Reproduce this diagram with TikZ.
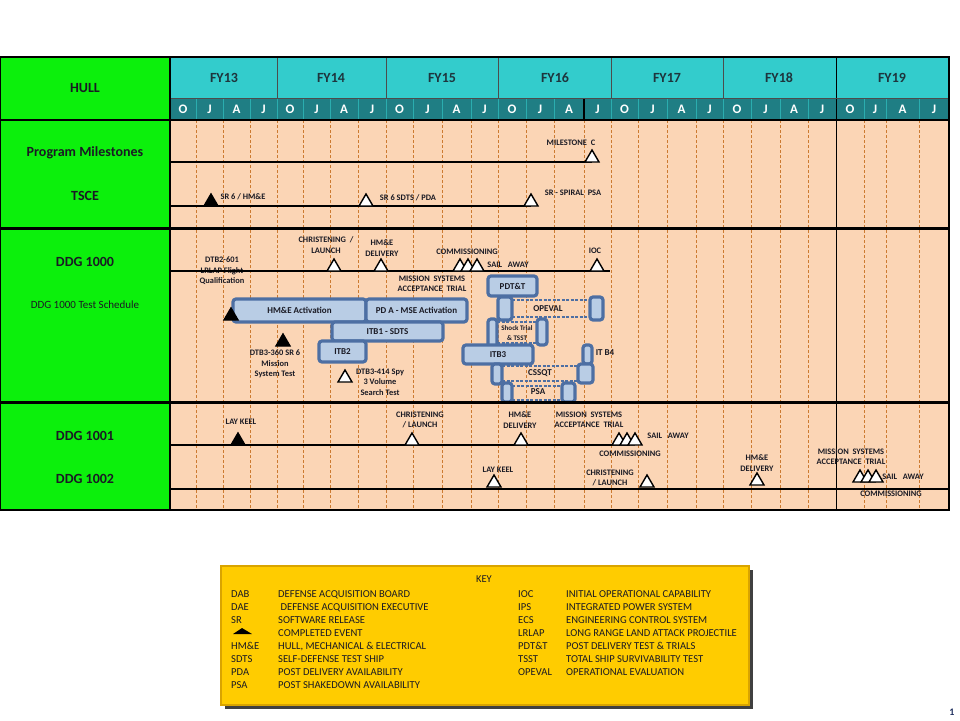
\documentclass[tikz,border=0pt]{standalone}
\usepackage{fontspec}
\setmainfont{Carlito}
\usetikzlibrary{positioning}
\definecolor{Ink}{HTML}{1A1A24}
\definecolor{HullGreen}{HTML}{0CF00C}
\definecolor{FYCyan}{HTML}{33CCCC}
\definecolor{MonthTeal}{HTML}{1F7E84}
\definecolor{Peach}{HTML}{FBD5B5}
\definecolor{DashOrange}{HTML}{CC7A30}
\definecolor{BarEdge}{HTML}{4D6FA3}
\definecolor{BarFill}{HTML}{B9CDE5}
\definecolor{KeyYellow}{HTML}{FFCC00}
\definecolor{KeyEdge}{HTML}{D9A400}
\definecolor{PageBlue}{HTML}{1F2F5F}
\tikzset{
  hulllbl/.style={font=\fontsize{14}{16}\selectfont\bfseries,text=Ink,inner sep=0pt},
  fylbl/.style={font=\fontsize{14}{16}\selectfont\bfseries,text=Ink!85!FYCyan,inner sep=0pt},
  monthlbl/.style={font=\fontsize{13}{15}\selectfont\bfseries,text=white,inner sep=0pt},
  lbl/.style={font=\fontsize{8.4}{10.5}\selectfont\bfseries,text=Ink,inner sep=0pt,align=center},
  barlbl/.style={font=\fontsize{9}{10}\selectfont\bfseries,text=Ink,inner sep=0pt,align=center},
  smallbar/.style={font=\fontsize{7}{10}\selectfont\bfseries,text=Ink,inner sep=0pt,align=center},
  keylbl/.style={font=\fontsize{10.6}{12}\selectfont,text=Ink,inner sep=0pt,anchor=base west},
  bar/.style={draw=BarEdge,fill=BarFill,line width=3.2pt,rounded corners=3pt},
  link/.style={draw=BarEdge,line width=1.6pt,dash pattern=on 3pt off 1.5pt},
  rowline/.style={black,line width=2pt},
  qline/.style={DashOrange,line width=0.6pt,dash pattern=on 3pt off 2pt},
  event/.style={draw=black,line width=1.4pt,line join=miter,fill=white},
  doneevent/.style={event,fill=black}
}
% milestone triangle: style, x, base y
\newcommand{\evt}[3]{\draw[#1] ({#2-7},#3) -- (#2,{#3-12}) -- ({#2+7},#3) -- cycle;}

\begin{document}
\begin{tikzpicture}[x=1pt,y=-1pt]
  \useasboundingbox (0,0) rectangle (960,720);
  \fill[white] (0,0) rectangle (960,720);

  % backgrounds
  \fill[HullGreen] (0,57) rectangle (170,510);
  \fill[FYCyan] (170,57) rectangle (949,98);
  \fill[MonthTeal] (170,98) rectangle (949,120);
  \fill[Peach] (170,120) rectangle (949,510);

  % quarter lines
  \foreach \qx in {196,223,250,277,303,330,358,386,413,442,471,498,526,554,584,611,638,667,696,723,751,780,808,864,886,919}{
    \draw[qline] (\qx,120) -- (\qx,510);
    \draw[FYCyan!60!MonthTeal,line width=0.8pt] (\qx,98) -- (\qx,120);
  }
  \draw[black,line width=1.6pt] (584,98) -- (584,120);
  \draw[black,line width=1pt] (836,57) -- (836,510);
  \foreach \fx in {277,386,498,611,723}{
    \draw[black!70,line width=0.8pt] (\fx,57) -- (\fx,98);
  }
  \draw[black!70,line width=0.8pt] (170,98) -- (949,98);

  % header
  \foreach \fx/\fy in {224/FY13,331/FY14,442/FY15,555/FY16,667/FY17,779/FY18,892/FY19}{
    \node[fylbl] (\fy) at (\fx,78) {\fy};
  }
  \foreach \ql/\qr/\m in {170/196/O,196/223/J,223/250/A,250/277/J,277/303/O,303/330/J,330/358/A,358/386/J,
                          386/413/O,413/442/J,442/471/A,471/498/J,498/526/O,526/554/J,554/584/A,584/611/J,
                          611/638/O,638/667/J,667/696/A,696/723/J,723/751/O,751/780/J,780/808/A,808/836/J,
                          836/864/O,864/886/J,886/919/A,919/949/J}{
    \node[monthlbl] (m-\ql) at ({(\ql+\qr)/2},109.5) {\m};
  }

  % left column
  \node[hulllbl] (hull) at (85,88) {HULL};
  \node[hulllbl] (progms) at (85,153) {Program Milestones};
  \node[hulllbl] (tsce) at (85,196) {TSCE};
  \node[hulllbl] (ddg1000) at (85,262) {DDG 1000};
  \node[font=\fontsize{11}{13}\selectfont,text=Ink,inner sep=0pt] (testsched) at (85,305) {DDG 1000 Test Schedule};
  \node[hulllbl] (ddg1001) at (85,436) {DDG 1001};
  \node[hulllbl] (ddg1002) at (85,479) {DDG 1002};

  % program milestones / TSCE
  \node[lbl] (msc) at (571,143) {MILESTONE\ \ C};
  \draw[rowline] (170,162) -- (592,162);
  \evt{event}{592}{162}
  \node[lbl] (sr6hme) at (243,197) {SR 6 / HM\&E};
  \node[lbl] (sr6sdts) at (408,198) {SR 6 SDTS / PDA};
  \node[lbl] (srspiral) at (573,193) {SR\ -\ SPIRAL\ \ PSA};
  \draw[rowline] (170,206) -- (531,206);
  \evt{doneevent}{211}{206}
  \evt{event}{366}{206}
  \evt{event}{531}{206}

  % DDG 1000
  \node[lbl] (dtb601) at (222,271) {DTB2-601\\LRLAP Flight\\Qualification};
  \node[lbl] (christ0) at (326,245) {CHRISTENING\ \ /\\LAUNCH};
  \node[lbl] (hmedel0) at (382,248) {HM\&E\\DELIVERY};
  \node[lbl] (comm0) at (467,252) {COMMISSIONING};
  \node[lbl] (sail0) at (508,265) {SAIL\ \ \ AWAY};
  \node[lbl] (ioc) at (595,251) {IOC};
  \node[lbl] (mst0) at (432,284) {MISSION\ \ SYSTEMS\\ACCEPTANCE\ \ TRIAL};
  \draw[rowline] (170,271) -- (610,271);
  \evt{event}{334}{271}
  \evt{event}{381}{271}
  \evt{event}{460}{271}
  \evt{event}{468}{271}
  \evt{event}{477}{271}
  \evt{event}{597}{271}

  % test schedule bars
  \draw[bar] (233,299) rectangle (366,322);
  \node[barlbl] (hmeact) at (299.5,310.5) {HM\&E Activation};
  \draw[bar] (366,299) rectangle (467,322);
  \node[barlbl] (pdamse) at (416.5,310.5) {PD A - MSE Activation};
  \draw[bar] (332,322) rectangle (443,341);
  \node[barlbl] (itb1) at (387.5,331.5) {ITB1\ -\ SDTS};
  \draw[bar] (319,341) rectangle (366,362);
  \node[barlbl] (itb2) at (342.5,351.5) {ITB2};
  \evt{doneevent}{231}{320}
  \evt{doneevent}{283}{346}
  \node[lbl] (dtb360) at (275,364) {DTB3-360 SR 6\\Mission\\System Test};
  \evt{event}{345}{382}
  \node[lbl] (dtb414) at (380,382) {DTB3-414 Spy\\3 Volume\\Search Test};

  \draw[bar] (488,276) rectangle (537,296);
  \node[barlbl] (pdtt) at (512.5,286) {PDT\&T};
  \draw[link] (512,300) -- (590,300);
  \draw[link] (512,317) -- (590,317);
  \draw[bar] (498,297) rectangle (512,320);
  \draw[bar] (590,297) rectangle (603,320);
  \node[barlbl] (opeval) at (548,309) {OPEVAL};
  \draw[link] (497,322) -- (537,322);
  \draw[link] (497,343) -- (537,343);
  \draw[bar] (488,319) rectangle (497,347);
  \draw[bar] (537,319) rectangle (547,345);
  \node[smallbar] (shock) at (517,333) {Shock Trial\\\& TSST};
  \draw[bar] (463,345) rectangle (533,364);
  \node[barlbl] (itb3) at (498,354.5) {ITB3};
  \draw[bar] (583,345) rectangle (592,364);
  \node[barlbl] (itb4) at (605,353) {IT B4};
  \draw[link] (502,366) -- (578,366);
  \draw[link] (502,381) -- (578,381);
  \draw[bar] (492,364) rectangle (502,384);
  \draw[bar] (578,364) rectangle (593,383);
  \node[barlbl] (cssqt) at (540,373.5) {CSSQT};
  \draw[link] (512,386) -- (562,386);
  \draw[link] (512,400) -- (562,400);
  \draw[bar] (502,383) rectangle (512,402);
  \draw[bar] (562,383) rectangle (575,402);
  \node[barlbl] (psa) at (538,392) {PSA};

  % DDG 1001
  \node[lbl] (laykeel1) at (241,422) {LAY KEEL};
  \node[lbl] (christ1) at (420,420) {CHRISTENING\\/ LAUNCH};
  \node[lbl] (hmedel1) at (520,420) {HM\&E\\DELIVERY};
  \node[lbl] (mst1) at (589,420) {MISSION\ \ SYSTEMS\\ACCEPTANCE\ \ TRIAL};
  \node[lbl] (sail1) at (668,436) {SAIL\ \ \ AWAY};
  \node[lbl] (comm1) at (630,454) {COMMISSIONING};
  \draw[rowline] (170,445) -- (630,445);
  \evt{doneevent}{238}{445}
  \evt{event}{412}{445}
  \evt{event}{521}{445}
  \evt{event}{619}{445}
  \evt{event}{627}{445}
  \evt{event}{635}{445}

  % DDG 1002
  \node[lbl] (laykeel2) at (498,470) {LAY KEEL};
  \node[lbl] (christ2) at (610,478) {CHRISTENING\\/ LAUNCH};
  \node[lbl] (hmedel2) at (757,463) {HM\&E\\DELIVERY};
  \node[lbl] (mst2) at (851,457) {MISSION\ \ SYSTEMS\\ACCEPTANCE\ \ TRIAL};
  \node[lbl] (sail2) at (903,477) {SAIL\ \ \ AWAY};
  \node[lbl] (comm2) at (891,494) {COMMISSIONING};
  \draw[rowline] (170,489) -- (949,489);
  \evt{event}{494}{487}
  \evt{event}{647}{487}
  \evt{event}{757}{485}
  \evt{event}{860}{482}
  \evt{event}{868}{482}
  \evt{event}{876}{482}

  % frame
  \draw[black,line width=1.2pt] (0,120) -- (949,120);
  \draw[black,line width=3pt] (0,228) -- (949,228);
  \draw[black,line width=3pt] (0,402) -- (949,402);
  \draw[black,line width=1.2pt] (170,57) -- (170,510);
  \draw[black,line width=1.6pt] (0,57) rectangle (949,510);

  % key
  \fill[black!75] (225,570) rectangle (753,709);
  \draw[KeyEdge,fill=KeyYellow,line width=2pt] (221,566) rectangle (749,705);
  \node[font=\fontsize{10.5}{12}\selectfont,text=Ink,inner sep=0pt] (keyttl) at (484,579) {KEY};
  \foreach \ab/\tx [count=\i] in {DAB/DEFENSE ACQUISITION BOARD,DAE/\ DEFENSE ACQUISITION EXECUTIVE,SR/SOFTWARE RELEASE,/COMPLETED EVENT,
      HM\&E/{HULL, MECHANICAL \& ELECTRICAL},SDTS/SELF-DEFENSE TEST SHIP,PDA/POST DELIVERY AVAILABILITY,PSA/POST SHAKEDOWN AVAILABILITY}{
    \node[keylbl] (kla-\i) at (231,{584+13*\i}) {\ab};
    \node[keylbl] (kld-\i) at (278,{584+13*\i}) {\tx};
  }
  \fill[black] (233,634) -- (242,628) -- (252,634) -- cycle;
  \foreach \ab/\tx [count=\i] in {IOC/INITIAL OPERATIONAL CAPABILITY,IPS/INTEGRATED POWER SYSTEM,ECS/ENGINEERING CONTROL SYSTEM,
      LRLAP/LONG RANGE LAND ATTACK PROJECTILE,PDT\&T/POST DELIVERY TEST \& TRIALS,TSST/TOTAL SHIP SURVIVABILITY TEST,OPEVAL/OPERATIONAL EVALUATION}{
    \node[keylbl] (kra-\i) at (518,{584+13*\i}) {\ab};
    \node[keylbl] (krd-\i) at (566,{584+13*\i}) {\tx};
  }

  \node[font=\fontsize{10}{12}\selectfont\bfseries,text=PageBlue,inner sep=0pt] (pagenum) at (952,712) {1};
\end{tikzpicture}
\end{document}
